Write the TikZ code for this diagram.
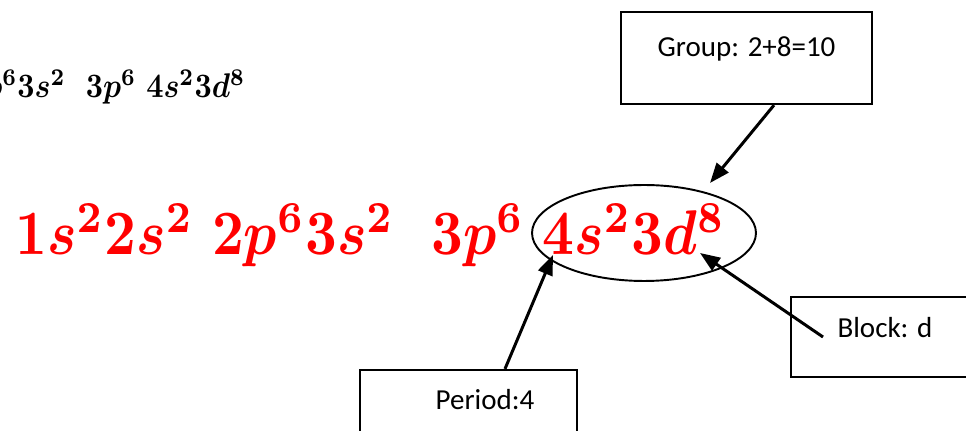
\documentclass[tikz,border=0pt]{standalone}
\usepackage{amsmath}
\usepackage{fontspec}
\newfontfamily\boxfont{Carlito}
\usetikzlibrary{positioning,shapes.geometric,arrows.meta}

\begin{document}
\begin{tikzpicture}[x=0.02cm, y=-0.02cm, >={Triangle[length=0.4cm,width=0.3cm]},
  infobox/.style={rectangle, draw=black, line width=1.3pt, inner sep=0pt, font=\boxfont\fontsize{16.5}{20}\selectfont},
  pointer/.style={->, line width=1.7pt}]

  \useasboundingbox (0,0) rectangle (966,431);
  \clip (0,0) rectangle (966,431);

  % configurations (small copy is cut off at the left)
  \node [anchor=base west, inner sep=0pt] (configtop) at (-140,98) {\scalebox{1}[1.14]{\resizebox{7.7cm}{!}{\boldmath$1s^2 2s^2\ 2p^6 3s^2\ \ 3p^6\ 4s^2 3d^8$}}};
  \node [anchor=base west, inner sep=0pt, text=red] (config) at (15,255) {\scalebox{1}[1.14]{\resizebox{14.2cm}{!}{\boldmath$1s^2 2s^2\ 2p^6 3s^2\ \ 3p^6\ 4s^2 3d^8$}}};
  \node [ellipse, draw, line width=1.1pt, minimum width=4.48cm, minimum height=1.92cm] (valence) at (644,233) {};

  % info boxes
  \node [infobox, minimum width=5.02cm, text height=0.9cm, text depth=0.94cm] (group) at (746.5,58) {Group: 2+8=10};
  \node [infobox, minimum width=3.76cm, text height=0.82cm, text depth=0.78cm] (block) at (885,337) {Block: d};
  \node [infobox, minimum width=4.34cm, text height=0.8cm, text depth=0.7cm] (period) at (468.5,407.5) {\hspace*{0.66cm}Period:4};

  \coordinate (grouptip) at (710,183);
  \coordinate (periodtip) at (553,255);
  \coordinate (blocktip) at (700,253);

  \draw [pointer] ([xshift=0.55cm]group.south) -- (grouptip);
  \draw [pointer] ([xshift=0.73cm]period.north) -- (periodtip);
  \draw [pointer] ([xshift=-1.24cm]block.center) -- (blocktip);
\end{tikzpicture}
\end{document}
